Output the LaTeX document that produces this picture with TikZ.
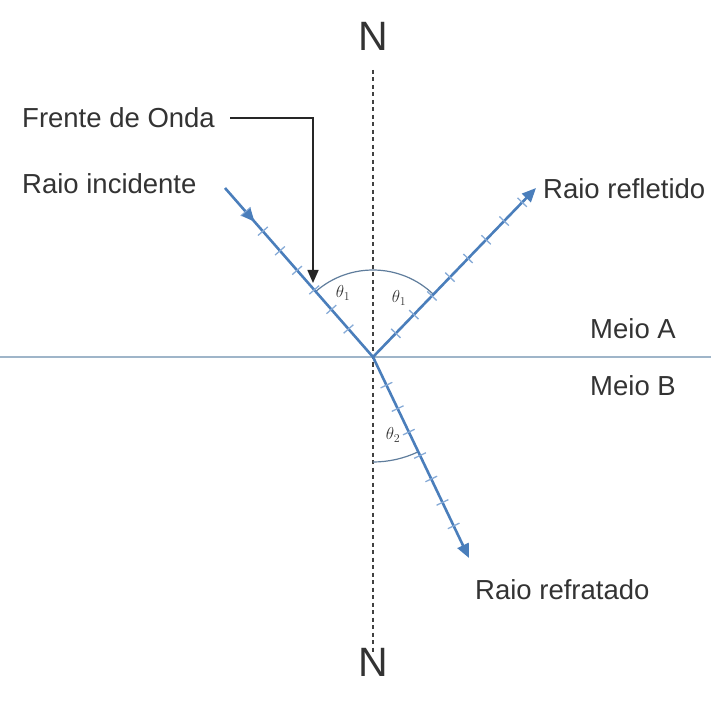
\documentclass[tikz,border=0pt]{standalone}
\usepackage{fontspec}
\setmainfont{Liberation Sans}
\usetikzlibrary{arrows.meta,decorations.markings}
\definecolor{ray}{HTML}{4A7EBB}
\definecolor{tick}{HTML}{86AAD6}
\definecolor{iface}{HTML}{9FB5C9}
\definecolor{arcc}{HTML}{5F7D9C}
\definecolor{txt}{HTML}{333333}
\tikzset{
  lbl/.style={text=txt,font=\fontsize{27.5}{32}\selectfont,inner sep=0pt},
  nlbl/.style={text=txt,font=\fontsize{41}{46}\selectfont,inner sep=0pt},
  thlbl/.style={text=txt,font=\fontsize{18}{21}\selectfont,inner sep=0pt},
  raystyle/.style={draw=ray,line width=2.6pt},
  ticks/.style={postaction={decorate,decoration={markings,
      mark=between positions 0.14 and 0.95 step 26pt with {\draw[tick,line width=1.3pt,-] (0,-6.5pt)--(0,6.5pt);}}}},
  midarrow/.style={postaction={decorate,decoration={markings,
      mark=at position 0.2 with {\arrow[ray]{Triangle[length=13pt,width=11pt]}}}}},
}
\begin{document}
\begin{tikzpicture}[x=1pt,y=1pt]
\useasboundingbox (0,0) rectangle (711,702);
\clip (0,0) rectangle (711,702);
% key points
\coordinate (O) at (373,345);
\coordinate (inc) at (225,514);
\coordinate (refl) at (536,514);
\coordinate (refr) at (469,144);
\coordinate (ntop) at (373,632);
\coordinate (nbot) at (373,50);
\coordinate (ileft) at (0,345);
\coordinate (iright) at (711,345);
% interface
\draw[iface,line width=2.2pt] (ileft) -- (iright);
% normal
\draw[black!75,line width=2.8pt,dash pattern=on 4pt off 3.5pt] (ntop) -- (nbot);
% arcs
\draw[arcc,line width=1.2pt] (O) ++(46:87) arc[start angle=46,end angle=131.2,radius=87];
\draw[arcc,line width=1.2pt] (O) ++(270:105) arc[start angle=270,end angle=295.5,radius=105];
% rays
\draw[raystyle,ticks,midarrow] (inc) -- (O);
\draw[raystyle,ticks,-{Triangle[length=14pt,width=12pt]}] (O) -- (refl);
\draw[raystyle,ticks,-{Triangle[length=14pt,width=12pt]}] (O) -- (refr);
% angle labels
\node[thlbl] (t1l) at (343,409) {$\theta_1$};
\node[thlbl] (t1r) at (399,404) {$\theta_1$};
\node[thlbl] (t2) at (393,267) {$\theta_2$};
% texts
\node[nlbl] (N1) at (373,666) {N};
\node[nlbl] (N2) at (373,40) {N};
\node[lbl,anchor=west] (fo) at (22,584) {Frente de Onda};
\node[lbl,anchor=west] (ri) at (22,518) {Raio incidente};
\node[lbl,anchor=west] (rf) at (543,513) {Raio refletido};
\node[lbl] (ma) at (633,373) {Meio A};
\node[lbl] (mb) at (633,316) {Meio B};
\node[lbl,anchor=west] (rr) at (475,112) {Raio refratado};
% wave front pointer
\coordinate (fotip) at (313,419);
\draw[black!85,line width=1.6pt,-{Triangle[length=13pt,width=11pt]}] ([xshift=15pt]fo.east) -| (fotip);
\end{tikzpicture}
\end{document}
